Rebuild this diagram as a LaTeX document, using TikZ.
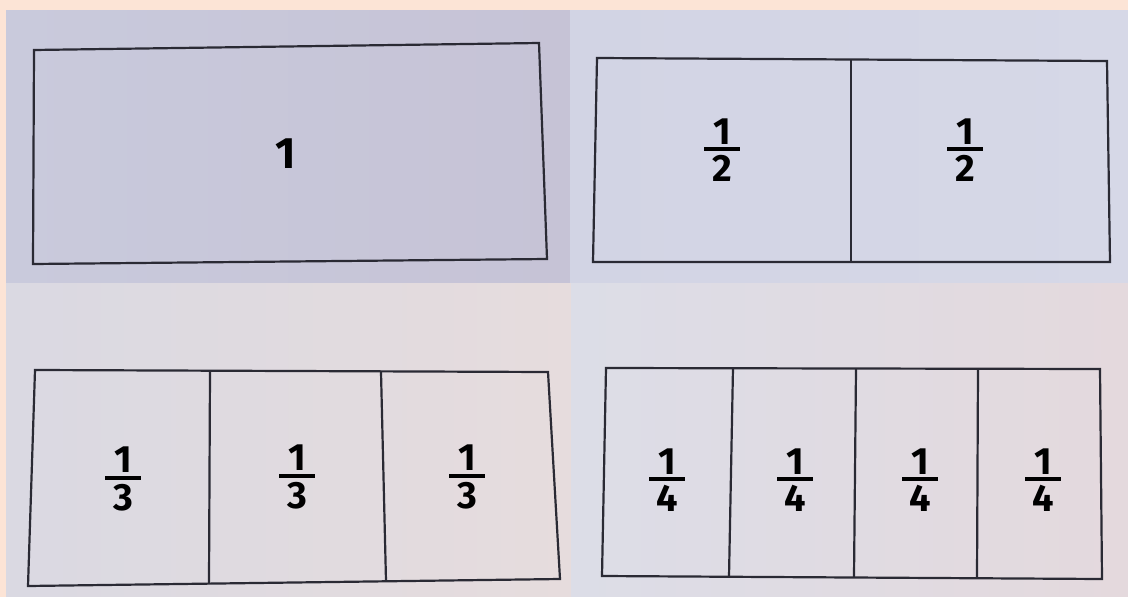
\documentclass[tikz,border=0pt]{standalone}
\usepackage{fontspec}
\setmainfont{Fira Sans}
\definecolor{peach}{HTML}{FCE4D6}
\definecolor{ink}{HTML}{2A2A34}
\definecolor{tlA}{HTML}{C9CADC}
\definecolor{tlB}{HTML}{C6C3D6}
\definecolor{trA}{HTML}{D2D4E4}
\definecolor{trB}{HTML}{D6D8E7}
\definecolor{blA}{HTML}{DAD9E2}
\definecolor{blB}{HTML}{E6DCDD}
\definecolor{brA}{HTML}{DCDDE7}
\definecolor{brB}{HTML}{E4D9DD}
\newcommand\fracpiece[1]{\vbox{\hbox to 36pt{\hss 1\hss}\kern3pt\hrule height 4pt\kern4pt\hbox to 36pt{\hss #1\hss}}}
\tikzset{
  sheet/.style={draw=ink, line width=2.2pt, line join=miter},
  divider/.style={draw=ink, line width=2.2pt},
  numtext/.style={font=\fontsize{44}{44}\selectfont\bfseries, text=black, inner sep=0pt},
  fractext/.style={font=\fontsize{38}{38}\selectfont\bfseries, text=black, inner sep=0pt},
}
\begin{document}
\begin{tikzpicture}[x=1pt,y=-1pt]
\useasboundingbox (0,0) rectangle (1128,597);
\fill[peach] (0,0) rectangle (1128,597);
% photo panels
\shade[left color=tlA, right color=tlB] (6,10) rectangle (570,283);
\shade[left color=trA, right color=trB] (570,10) rectangle (1128,283);
\shade[left color=blA, right color=blB] (6,283) rectangle (571,597);
\shade[left color=brA, right color=brB] (571,283) rectangle (1128,597);
% top-left sheet: 1
\draw[sheet] (34,50) -- (539,43) -- (547,259) -- (33,264) -- cycle;
\node[numtext] (one) at (286,154) {1};
% top-right sheet: halves
\draw[sheet] (597,58) -- (1107,61) -- (1110,262) -- (593,262) -- cycle;
\coordinate (h1t) at (851,60); \coordinate (h1b) at (851,262);
\draw[divider] (h1t) -- (h1b);
\node[fractext] (half1) at (722,150) {\fracpiece{2}};
\node[fractext] (half2) at (965,150) {\fracpiece{2}};
% bottom-left sheet: thirds
\draw[sheet] (35,370) -- (548,372) -- (560,579) -- (28,586) -- cycle;
\coordinate (t1t) at (210,371); \coordinate (t1b) at (209,583);
\coordinate (t2t) at (381,372); \coordinate (t2b) at (386,581);
\draw[divider] (t1t) -- (t1b);
\draw[divider] (t2t) -- (t2b);
\node[fractext] (third1) at (123,479) {\fracpiece{3}};
\node[fractext] (third2) at (297,477) {\fracpiece{3}};
\node[fractext] (third3) at (467,477) {\fracpiece{3}};
% bottom-right sheet: quarters
\draw[sheet] (606,368) -- (1100,369) -- (1102,579) -- (602,576) -- cycle;
\coordinate (q1t) at (733,368); \coordinate (q1b) at (729,577);
\coordinate (q2t) at (856,369); \coordinate (q2b) at (854,577);
\coordinate (q3t) at (978,369); \coordinate (q3b) at (977,578);
\draw[divider] (q1t) -- (q1b);
\draw[divider] (q2t) -- (q2b);
\draw[divider] (q3t) -- (q3b);
\node[fractext] (quarter1) at (667,480) {\fracpiece{4}};
\node[fractext] (quarter2) at (795,480) {\fracpiece{4}};
\node[fractext] (quarter3) at (920,480) {\fracpiece{4}};
\node[fractext] (quarter4) at (1043,480) {\fracpiece{4}};
\end{tikzpicture}
\end{document}
